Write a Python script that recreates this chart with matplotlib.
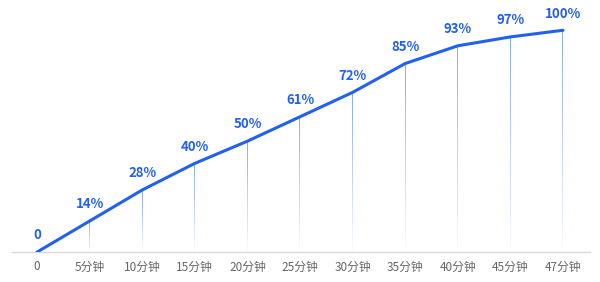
import numpy as np
import matplotlib
matplotlib.use('Agg')
import matplotlib.pyplot as plt
from matplotlib.colors import LinearSegmentedColormap

plt.rcParams['font.family'] = ['Noto Sans CJK SC', 'DejaVu Sans']

categories = ['0', '5分钟', '10分钟', '15分钟', '20分钟', '25分钟',
              '30分钟', '35分钟', '40分钟', '45分钟', '47分钟']
values = [0, 14, 28, 40, 50, 61, 72, 85, 93, 97, 100]

blue = '#2160f0'
x = np.arange(len(categories))

fig = plt.figure(figsize=(6, 2.82), dpi=100)
ax = fig.add_axes([0.02, 0.106, 0.963, 0.826])

# drop lines, fading towards the axis
fade = LinearSegmentedColormap.from_list(
    'fade', [(0.50, 0.65, 0.97, 0.04), (0.50, 0.65, 0.97, 0.95)])
grad = np.linspace(0, 1, 100).reshape(-1, 1)
half_w = 0.0095
for xi, v in zip(x, values):
    if v <= 0:
        continue
    ax.imshow(grad, cmap=fade, origin='lower', aspect='auto',
              extent=(xi - half_w, xi + half_w, 0, v),
              interpolation='bilinear', zorder=1)

ax.plot(x, values, color=blue, lw=2.2, zorder=3, solid_capstyle='round')

for xi, v in zip(x, values):
    lab = '0' if v == 0 else f'{v}%'
    ax.annotate(lab, (xi, v), xytext=(0, 7), textcoords='offset points',
                ha='center', va='bottom', color=blue, fontsize=9.5,
                fontweight='bold')

ax.set_xlim(-0.475, 10.51)
ax.set_ylim(0, 105)
ax.set_xticks(x)
ax.set_xticklabels(categories, color='#666666', fontsize=8.5)
ax.tick_params(axis='x', length=0, pad=6)
ax.set_yticks([])
for s in ['top', 'right', 'left']:
    ax.spines[s].set_visible(False)
ax.spines['bottom'].set_color('#d9d9d9')
ax.spines['bottom'].set_linewidth(1)

fig.savefig('out.png', dpi=100)
